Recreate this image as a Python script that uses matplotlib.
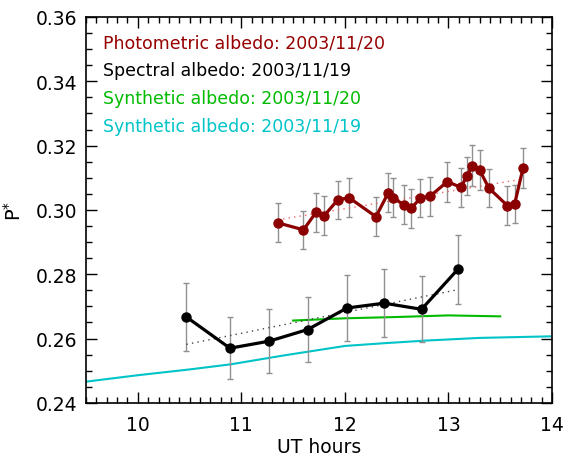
import matplotlib
matplotlib.use('Agg')
import matplotlib.pyplot as plt
from matplotlib.ticker import MultipleLocator
import numpy as np

# Photometric albedo, 2003/11/20
phot_t = [11.35, 11.60, 11.72, 11.80, 11.93, 12.04, 12.30, 12.42, 12.46, 12.57, 12.64,
          12.73, 12.82, 12.99, 13.12, 13.18, 13.23, 13.30, 13.39, 13.57, 13.64, 13.72]
phot_p = [0.2960, 0.2938, 0.2992, 0.2982, 0.3031, 0.3038, 0.2979, 0.3054, 0.3038, 0.3016, 0.3005,
          0.3037, 0.3042, 0.3088, 0.3070, 0.3106, 0.3138, 0.3125, 0.3068, 0.3013, 0.3019, 0.3130]
phot_err = [0.0060, 0.0060, 0.0060, 0.0060, 0.0060, 0.0060, 0.0060, 0.0062, 0.0060, 0.0060, 0.0060,
            0.0060, 0.0060, 0.0062, 0.0060, 0.0060, 0.0064, 0.0062, 0.0060, 0.0060, 0.0060, 0.0062]
phot_fit_t = [11.35, 13.72]
phot_fit_p = [0.2969, 0.3096]

# Spectral albedo, 2003/11/19
spec_t = [10.47, 10.89, 11.27, 11.64, 12.02, 12.38, 12.74, 13.09]
spec_p = [0.2667, 0.2570, 0.2592, 0.2628, 0.2695, 0.2710, 0.2691, 0.2815]
spec_err = [0.0107, 0.0097, 0.0100, 0.0100, 0.0103, 0.0106, 0.0103, 0.0108]
spec_fit_t = [10.47, 13.09]
spec_fit_p = [0.2582, 0.2752]

# Synthetic albedo, 2003/11/20
syn20_t = [11.5, 12.0, 12.5, 13.0, 13.5]
syn20_p = [0.2656, 0.2663, 0.2667, 0.2672, 0.2669]

# Synthetic albedo, 2003/11/19
syn19_t = [9.5, 10.0, 10.5, 10.9, 11.4, 11.7, 12.0, 12.4, 12.8, 13.3, 14.0]
syn19_p = [0.2466, 0.2486, 0.2504, 0.2520, 0.2547, 0.2562, 0.2577, 0.2586, 0.2594, 0.2602, 0.2607]

labels = ['Photometric albedo: 2003/11/20', 'Spectral albedo: 2003/11/19',
          'Synthetic albedo: 2003/11/20', 'Synthetic albedo: 2003/11/19']
colors = ['#960000', 'black', '#00bb00', '#00c4c8']

fig = plt.figure(figsize=(5.75, 4.6), dpi=100)
ax = fig.add_axes([0.1496, 0.122, 0.8104, 0.839])

ax.plot(syn19_t, syn19_p, color=colors[3], lw=1.5)
ax.plot(syn20_t, syn20_p, color=colors[2], lw=1.5)

ax.errorbar(spec_t, spec_p, yerr=spec_err, fmt='none', ecolor='#909090', elinewidth=1, capsize=2.5)
ax.plot(spec_fit_t, spec_fit_p, color='#444444', ls=(0, (1, 3)), lw=1)
ax.plot(spec_t, spec_p, color=colors[1], lw=2.3, marker='o', ms=6.5)

ax.errorbar(phot_t, phot_p, yerr=phot_err, fmt='none', ecolor='#909090', elinewidth=1, capsize=2.5)
ax.plot(phot_fit_t, phot_fit_p, color='#ee6666', ls=(0, (1, 3)), lw=1)
ax.plot(phot_t, phot_p, color='#8b0000', lw=2.3, marker='o', ms=6.5)

for i, (lab, c) in enumerate(zip(labels, colors)):
    ax.text(0.0365, 0.933 - i * 0.0715, lab, color=c, fontsize=12.5,
            transform=ax.transAxes, va='center', ha='left')

ax.set_xlim(9.5, 14)
ax.set_ylim(0.24, 0.36)
ax.xaxis.set_major_locator(MultipleLocator(1))
ax.xaxis.set_minor_locator(MultipleLocator(0.1))
ax.yaxis.set_major_locator(MultipleLocator(0.02))
ax.yaxis.set_minor_locator(MultipleLocator(0.005))
ax.yaxis.set_major_formatter(matplotlib.ticker.FormatStrFormatter('%.2f'))
ax.tick_params(which='both', direction='in', top=True, right=True, labelsize=13.5)
ax.tick_params(which='major', length=8, width=1)
ax.tick_params(which='minor', length=4, width=1)
ax.tick_params(axis='x', pad=9)
ax.tick_params(axis='y', pad=6)
for s in ax.spines.values():
    s.set_linewidth(1.2)

ax.set_xlabel('UT hours', fontsize=13.5, labelpad=2)
ax.set_ylabel('P$^{*}$', fontsize=14, labelpad=8)

fig.savefig('out.png', dpi=100)
